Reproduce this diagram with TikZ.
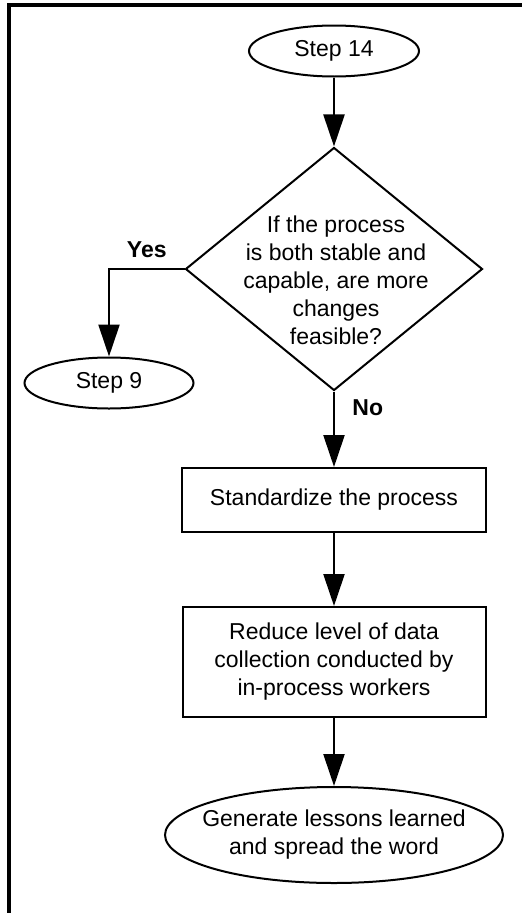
\documentclass[tikz,border=0pt]{standalone}
\usepackage{fontspec}
\setmainfont{Liberation Sans}
\usepackage{tikz}
\usetikzlibrary{positioning}
\usetikzlibrary{shapes.geometric}
\usetikzlibrary{arrows.meta}

\begin{document}
\begin{tikzpicture}[x=1pt, y=-1pt,
  font=\fontsize{23}{28}\selectfont,
  terminal/.style={draw, ellipse, line width=2pt, inner sep=0pt, align=center},
  process/.style={draw, rectangle, line width=2pt, inner sep=0pt, align=center},
  decision/.style={draw, diamond, line width=2pt, inner sep=0pt, minimum width=297pt, minimum height=243pt},
  flow/.style={line width=2.2pt, -{Triangle[length=32pt, width=21pt]}},
  answer/.style={font=\fontsize{23}{28}\selectfont\bfseries}]
\useasboundingbox (0,0) rectangle (522,913);
\draw [line width=4pt] (9,913) -- (9,5) -- (522,5);

\node [terminal, minimum width=170pt, minimum height=51pt] (step14) at (334,51) {Step 14};
\node [decision] (feasible) at (334,269) {};
\node [align=center] (question) at (336,280) {If the process\\is both stable and\\capable, are more\\changes\\feasible?};
\node [terminal, minimum width=169pt, minimum height=51pt] (step9) at (109,383) {Step 9};
\node [process, minimum width=304pt, minimum height=64pt] (standard) at (334,500) {Standardize the process};
\node [process, minimum width=303pt, minimum height=110pt] (reduce) at (334,662) {Reduce level of data\\collection conducted by\\in-process workers};
\node [terminal, inner xsep=-15pt, minimum width=338pt, minimum height=96pt] (lessons) at (334,835) {Generate lessons learned\\and spread the word};

\draw [flow] (step14) -- (feasible);
\draw [flow] (feasible.west) -| (step9) node [answer, pos=0.25, above=7pt] {Yes};
\draw [flow] (feasible) -- (standard) node [answer, pos=0.22, right=14pt] {No};
\draw [flow] (standard) -- (reduce);
\draw [flow] (reduce) -- (lessons);
\end{tikzpicture}
\end{document}
